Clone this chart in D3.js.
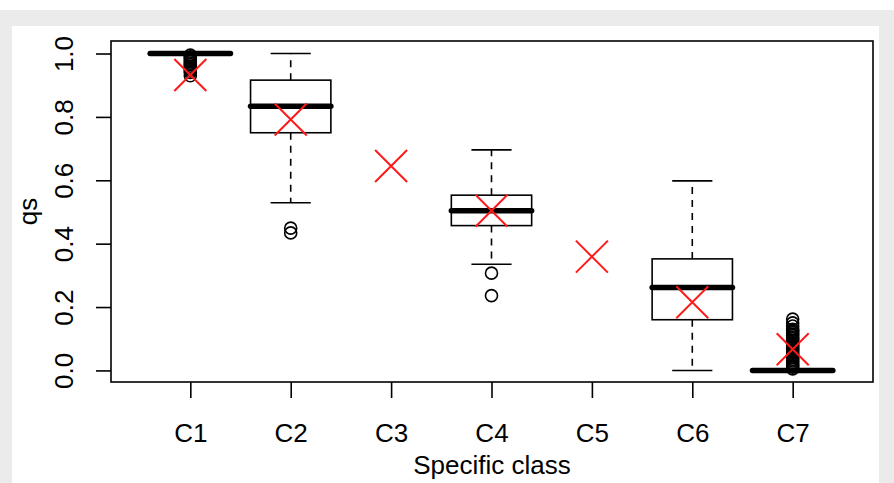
<!DOCTYPE html>
<html lang="en">
<head>
  <meta charset="UTF-8">
  <title>qs by specific class</title>
  <script src="https://d3js.org/d3.v7.min.js"></script>
  <style>
    html, body { margin: 0; padding: 0; background: #fff; }
    svg { display: block; font-family: "Liberation Sans", Arial, sans-serif; }
  </style>
</head>
<body>
  <div id="chart"></div>

  <script>
    // data
    const classes = ["C1", "C2", "C3", "C4", "C5", "C6", "C7"];
    // five-number summaries: lower whisker, Q1, median, Q3, upper whisker (null = no data)
    const lowWhisker = [1.0, 0.529, null, 0.335, null, 0.0, 0.0];
    const q1 = [1.0, 0.750, null, 0.457, null, 0.160, 0.0];
    const medians = [1.0, 0.834, null, 0.504, null, 0.262, 0.0];
    const q3 = [1.0, 0.916, null, 0.553, null, 0.352, 0.0];
    const highWhisker = [1.0, 1.0, null, 0.696, null, 0.598, 0.0];
    const outliers = [
      [0.93, 0.94, 0.945, 0.95, 0.955, 0.96, 0.965, 0.97, 0.975, 0.98, 0.985, 0.99, 0.995],
      [0.434, 0.449],
      [],
      [0.307, 0.236],
      [],
      [],
      [0.005, 0.01, 0.015, 0.02, 0.025, 0.03, 0.035, 0.04, 0.045, 0.05, 0.055, 0.06, 0.065,
       0.07, 0.075, 0.08, 0.085, 0.09, 0.095, 0.1, 0.105, 0.11, 0.115, 0.12, 0.125, 0.13,
       0.14, 0.15, 0.162]
    ];
    const means = [0.932, 0.792, 0.645, 0.504, 0.359, 0.215, 0.067];
    const yTicks = [0.0, 0.2, 0.4, 0.6, 0.8, 1.0];

    const W = 894, H = 483;
    const box = { left: 111, right: 873, top: 41, bottom: 382 };
    const lw = 1.6, fs = 26;

    const svg = d3.select("#chart").append("svg")
      .attr("width", W).attr("height", H);

    // page background like the screenshot
    svg.append("rect").attr("x", 0).attr("y", 10).attr("width", W).attr("height", H - 10)
      .attr("fill", "#ebebeb");
    svg.append("rect").attr("x", 12).attr("y", 26).attr("width", 867).attr("height", H - 26)
      .attr("fill", "#fff");

    const x = d3.scaleLinear().domain([0.21, 7.8]).range([box.left, box.right]);
    const y = d3.scaleLinear().domain([-0.0365, 1.0395]).range([box.bottom, box.top]);
    const halfBox = (x(1.4) - x(1)), halfCap = (x(1.2) - x(1));

    // y axis
    const yAxis = svg.append("g")
      .attr("transform", "translate(" + box.left + ",0)")
      .call(d3.axisLeft(y).tickValues(yTicks).tickSize(15).tickFormat(d3.format(".1f")));
    yAxis.select(".domain").remove();
    yAxis.selectAll("line").attr("stroke", "#000").attr("stroke-width", lw);
    yAxis.selectAll(".tick text")
      .attr("font-size", fs).attr("fill", "#000")
      .attr("text-anchor", "middle")
      .attr("transform", "rotate(-90)")
      .attr("x", 0).attr("y", -38).attr("dy", 0);

    // x axis
    const xAxis = svg.append("g")
      .attr("transform", "translate(0," + box.bottom + ")")
      .call(d3.axisBottom(x).tickValues(d3.range(1, classes.length + 1))
        .tickSize(16).tickFormat(d => classes[d - 1]));
    xAxis.select(".domain").remove();
    xAxis.selectAll("line").attr("stroke", "#000").attr("stroke-width", lw);
    xAxis.selectAll("text").attr("font-size", fs).attr("fill", "#000")
      .attr("y", 60).attr("dy", 0);

    // axis titles
    svg.append("text")
      .attr("x", (box.left + box.right) / 2).attr("y", 474)
      .attr("text-anchor", "middle").attr("font-size", fs).text("Specific class");
    svg.append("text")
      .attr("transform", "translate(37," + (box.top + box.bottom) / 2 + ") rotate(-90)")
      .attr("text-anchor", "middle").attr("font-size", fs).text("qs");

    // boxplots
    const g = svg.append("g");
    classes.forEach((c, i) => {
      const cx = x(i + 1);
      if (medians[i] !== null) {
        // whiskers
        g.append("line").attr("x1", cx).attr("x2", cx)
          .attr("y1", y(q3[i])).attr("y2", y(highWhisker[i]))
          .attr("stroke", "#000").attr("stroke-width", lw).attr("stroke-dasharray", "7,6");
        g.append("line").attr("x1", cx).attr("x2", cx)
          .attr("y1", y(q1[i])).attr("y2", y(lowWhisker[i]))
          .attr("stroke", "#000").attr("stroke-width", lw).attr("stroke-dasharray", "7,6");
        [highWhisker[i], lowWhisker[i]].forEach(v => {
          g.append("line").attr("x1", cx - halfCap).attr("x2", cx + halfCap)
            .attr("y1", y(v)).attr("y2", y(v))
            .attr("stroke", "#000").attr("stroke-width", lw);
        });
        g.append("rect")
          .attr("x", cx - halfBox).attr("width", 2 * halfBox)
          .attr("y", y(q3[i])).attr("height", Math.max(0, y(q1[i]) - y(q3[i])))
          .attr("fill", "none").attr("stroke", "#000").attr("stroke-width", lw);
        g.append("line").attr("x1", cx - halfBox).attr("x2", cx + halfBox)
          .attr("y1", y(medians[i])).attr("y2", y(medians[i]))
          .attr("stroke", "#000").attr("stroke-width", 5.5).attr("stroke-linecap", "round");
      }
      outliers[i].forEach(v => {
        g.append("circle").attr("cx", cx).attr("cy", y(v)).attr("r", 6)
          .attr("fill", "none").attr("stroke", "#000").attr("stroke-width", lw);
      });
    });

    // means as red crosses
    const s = 16;
    means.forEach((m, i) => {
      const cx = x(i + 1), cy = y(m);
      g.append("path")
        .attr("d", "M" + (cx - s) + "," + (cy - s) + "L" + (cx + s) + "," + (cy + s) +
                   "M" + (cx - s) + "," + (cy + s) + "L" + (cx + s) + "," + (cy - s))
        .attr("stroke", "#ff1a1a").attr("stroke-width", 2).attr("fill", "none");
    });

    // plot frame
    svg.append("rect")
      .attr("x", box.left).attr("y", box.top)
      .attr("width", box.right - box.left).attr("height", box.bottom - box.top)
      .attr("fill", "none").attr("stroke", "#000").attr("stroke-width", lw);
  </script>
</body>
</html>
